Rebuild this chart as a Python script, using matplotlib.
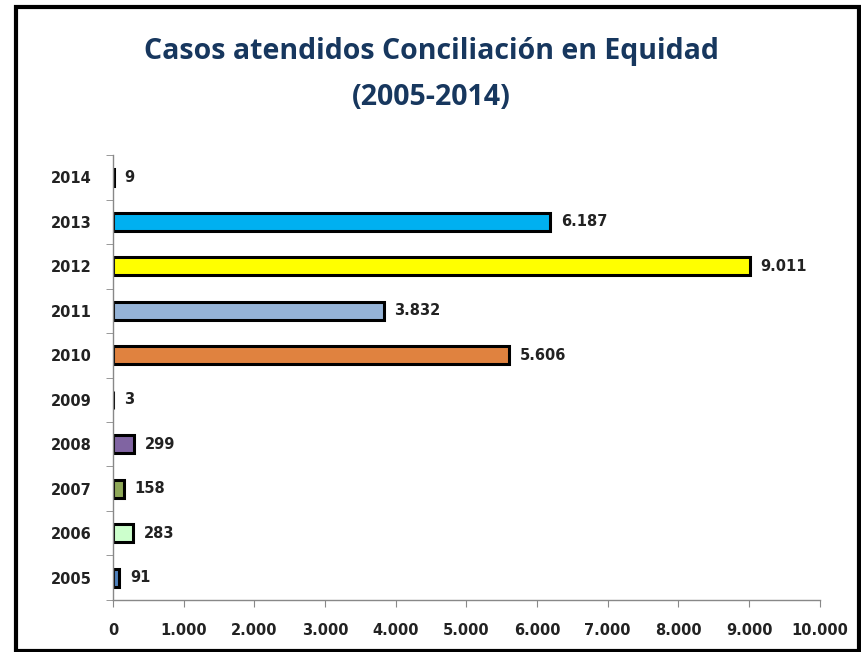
import matplotlib.pyplot as plt
from matplotlib.patches import Rectangle
from matplotlib.ticker import FuncFormatter

years = ['2005', '2006', '2007', '2008', '2009', '2010', '2011', '2012', '2013', '2014']
cases = [91, 283, 158, 299, 3, 5606, 3832, 9011, 6187, 9]
colors = ['#4F81BD', '#CCFFCC', '#8FA858', '#8064A2', '#000000',
          '#E0823F', '#95B3D7', '#FFFF00', '#00B0F0', '#000000']


def miles(v):
    # separador de miles con punto
    return f'{v:,.0f}'.replace(',', '.')


fig = plt.figure(figsize=(8.62, 6.52), dpi=100)
ax = fig.add_axes([0.131, 0.080, 0.820, 0.682])

pos = range(len(years))
ax.barh(pos, cases, height=0.4, color=colors, edgecolor='black', linewidth=2.2)

for i, v in enumerate(cases):
    ax.text(v + 150, i, miles(v), va='center', ha='left',
            fontsize=10.5, fontweight='bold', color='#222222')

ax.set_xlim(0, 10000)
ax.set_ylim(-0.5, len(years) - 0.5)
ax.set_xticks(range(0, 10001, 1000))
ax.xaxis.set_major_formatter(FuncFormatter(lambda v, p: miles(v)))
ax.set_yticks(list(pos))
ax.set_yticklabels(years)
ax.set_yticks([i - 0.5 for i in range(len(years) + 1)], minor=True)
ax.tick_params(axis='y', which='major', length=0, pad=15)
ax.tick_params(axis='y', which='minor', length=5, color='#888888')
ax.tick_params(axis='x', length=5, color='#888888', pad=12)
for lab in ax.get_xticklabels() + ax.get_yticklabels():
    lab.set_fontsize(10.5)
    lab.set_fontweight('bold')
    lab.set_color('#222222')

for s in ['top', 'right']:
    ax.spines[s].set_visible(False)
for s in ['left', 'bottom']:
    ax.spines[s].set_color('#888888')
    ax.spines[s].set_linewidth(1)

fig.text(0.5, 0.886, 'Casos atendidos Conciliación en Equidad\n(2005-2014)',
         ha='center', va='center', fontsize=20.5, fontweight='bold',
         color='#17375E', family='Open Sans', linespacing=1.8)

# marco exterior
fig.patches.append(Rectangle((0.018, 0.002), 0.978, 0.988, transform=fig.transFigure,
                             fill=False, edgecolor='black', linewidth=3))

fig.savefig('out.png', dpi=100)
